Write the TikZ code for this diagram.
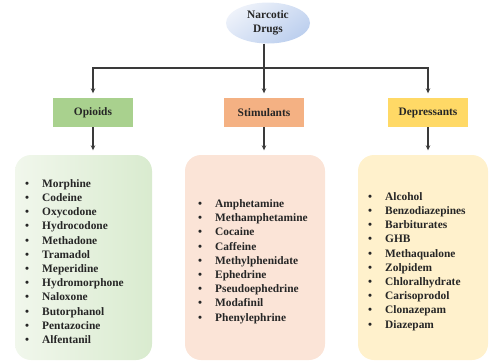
\documentclass[tikz,border=0pt]{standalone}
\usepackage{fontspec}
\setmainfont{Liberation Serif}
\usetikzlibrary{shapes.geometric,arrows.meta,positioning}

\definecolor{txtc}{HTML}{262626}
\definecolor{linec}{HTML}{3A3A3A}
\definecolor{opic}{HTML}{A9D18E}
\definecolor{stimc}{HTML}{F4B183}
\definecolor{depc}{HTML}{FFD966}
\definecolor{opilistL}{HTML}{F1F7EC}
\definecolor{opilistR}{HTML}{D9EBCF}
\definecolor{stimlist}{HTML}{FBE4D7}
\definecolor{deplist}{HTML}{FFF1CC}
\definecolor{ellTop}{HTML}{EEF2FA}
\definecolor{ellBot}{HTML}{BCCFEE}

\newcommand{\drug}[1]{\makebox[17pt][l]{\textbullet}#1}

\tikzset{
  bigtext/.style={font=\bfseries\fontsize{11.4}{13.6}\selectfont, text=txtc},
  catbox/.style={bigtext, minimum width=80, minimum height=29, inner sep=0},
  listbox/.style={rounded corners=16pt, minimum height=205, inner sep=0},
  listtext/.style={font=\bfseries\fontsize{11.4}{14.2}\selectfont, text=txtc, align=left, inner sep=0, anchor=west},
  conn/.style={draw=linec, line width=1.1pt},
  connarrow/.style={conn, -{Stealth[length=5pt,width=4.5pt]}, shorten >=4.5pt}
}

\begin{document}
\begin{tikzpicture}[x=1pt,y=-1pt]
  \useasboundingbox (0,0) rectangle (490,362);

  % top node
  \node[ellipse, top color=ellTop, bottom color=ellBot, shading angle=35,
        minimum width=84, minimum height=41, inner sep=0, bigtext, align=center]
        (drugs) at (268,23) {Narcotic\\Drugs};

  % categories
  \node[catbox, fill=opic] (opi) at (93,112.5) {Opioids};
  \node[catbox, fill=stimc] (stim) at (264,112.5) {Stimulants};
  \node[catbox, fill=depc] (dep) at (428,112.5) {Depressants};

  % list boxes
  \node[listbox, left color=opilistL, right color=opilistR, minimum width=137] (opilist) at (83.5,257.5) {};
  \node[listbox, fill=stimlist, minimum width=140] (stimlist) at (255,257.5) {};
  \node[listbox, fill=deplist, minimum width=130] (deplist) at (423,257.5) {};

  % connectors
  \coordinate (split) at (264,68);
  \draw[conn] (drugs.south -| split) -- (split);
  \draw[connarrow] (split) -| (opi.north);
  \draw[connarrow] (split) -- (stim.north);
  \draw[connarrow] (split) -| (dep.north);
  \draw[connarrow] (opi.south) -- (opi.south |- opilist.north);
  \draw[connarrow] (stim.south) -- (stim.south |- stimlist.north);
  \draw[connarrow] (dep.south) -- (dep.south |- deplist.north);

  % lists
  \node[listtext] (opitext) at (25,261.5) {\drug{Morphine}\\ \drug{Codeine}\\ \drug{Oxycodone}\\ \drug{Hydrocodone}\\ \drug{Methadone}\\ \drug{Tramadol}\\ \drug{Meperidine}\\ \drug{Hydromorphone}\\ \drug{Naloxone}\\ \drug{Butorphanol}\\ \drug{Pentazocine}\\ \drug{Alfentanil}};
  \node[listtext] (stimtext) at (198,261.5) {\drug{Amphetamine}\\ \drug{Methamphetamine}\\ \drug{Cocaine}\\ \drug{Caffeine}\\ \drug{Methylphenidate}\\ \drug{Ephedrine}\\ \drug{Pseudoephedrine}\\ \drug{Modafinil}\\ \drug{Phenylephrine}};
  \node[listtext] (deptext) at (368,261.5) {\drug{Alcohol}\\ \drug{Benzodiazepines}\\ \drug{Barbiturates}\\ \drug{GHB}\\ \drug{Methaqualone}\\ \drug{Zolpidem}\\ \drug{Chloralhydrate}\\ \drug{Carisoprodol}\\ \drug{Clonazepam}\\ \drug{Diazepam}};
\end{tikzpicture}
\end{document}
